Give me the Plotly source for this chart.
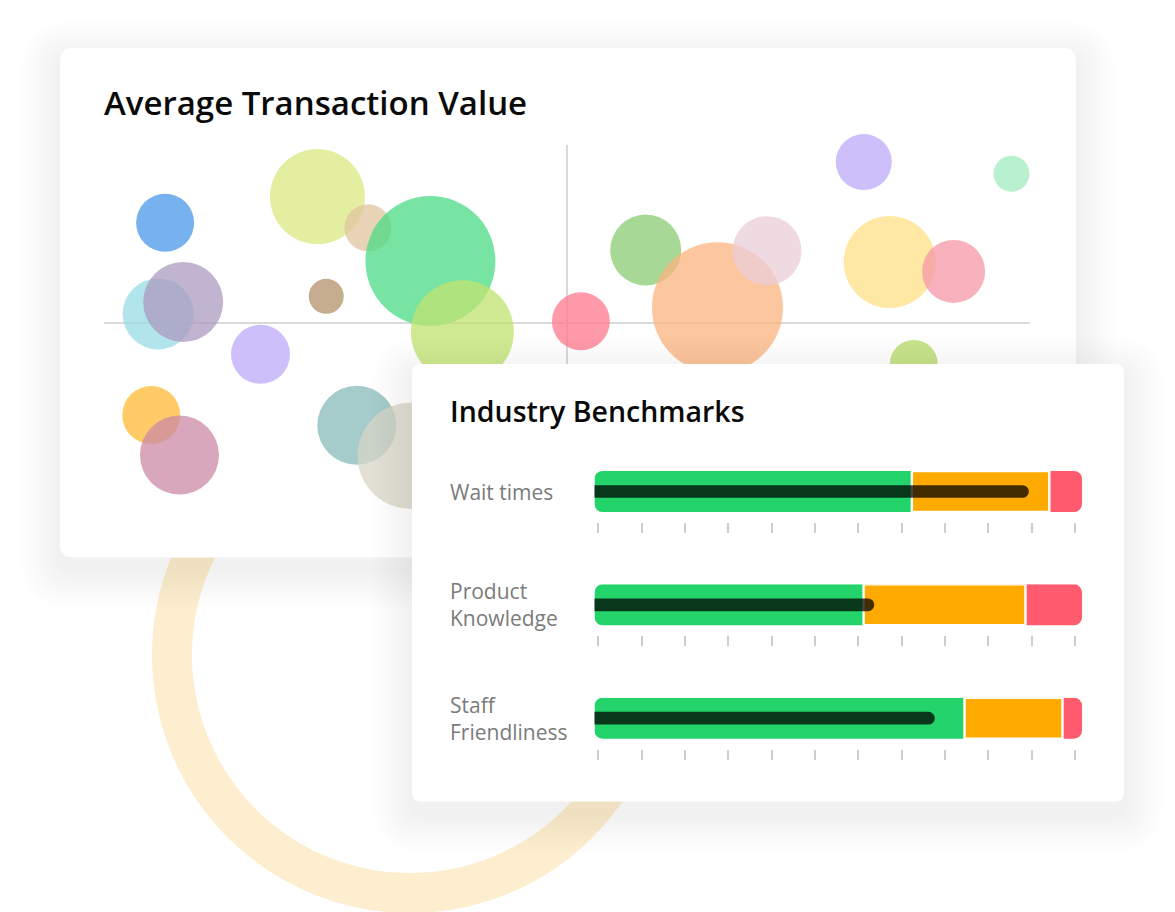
import plotly.graph_objects as go

W, H = 1175, 912

# ---------- Average Transaction Value (bubbles) ----------
bubble_x = [-86.8, -53.9, -43.0, -29.5, -22.6, -52.0, -88.3, -82.9, -66.2, -89.8, -83.7,
            -45.4, -33.8, 3.0, 17.0, 32.5, 43.2, 64.1, 96.0, 69.7, 83.5, 74.9]
bubble_y = [56.3, 71.0, 53.5, 34.8, -4.9, 15.0, 5.1, 11.8, -17.6, -51.7, -74.2,
            -57.5, -74.6, 1.0, 41.0, 8.6, 40.6, 90.4, 83.9, 34.3, 29.0, -23.0]
bubble_size = [58, 95, 47, 130, 103, 35, 71, 80, 59, 58, 79,
               79, 106, 58, 71, 131, 69, 56, 36, 92, 63, 48]
bubble_color = ['#77B2EE', '#E4EEA0', '#E8D3B7', '#78E4A3', '#D0EA94', '#C6AD8F',
                '#B2E4EB', '#C0B4D0', '#CDC0FA', '#FECB66', '#D8A7BC', '#A5CBCA',
                '#E2DFD4', '#FE9AAA', '#A8D896', '#FCC79E', '#F0DAE2', '#CDC0FA',
                '#B9F0D0', '#FFE8A4', '#F8B2BE', '#C8E48C']

# ---------- Industry Benchmarks (bullets) ----------
bench_labels = ['Wait times', 'Product<br>Knowledge', 'Staff<br>Friendliness']
good_end = [65.1, 55.2, 75.9]
fair_end = [93.3, 88.4, 96.0]
scale_max = [100, 100, 100]
measure = [89.1, 57.4, 69.8]

GREEN, ORANGE, RED = '#22D46A', '#FFAA00', '#FF5A6E'
RING = '#FDEECF'


def fx(px):
    return px / W


def fy(py):
    return 1 - py / H


def tint(hexcol, a=0.75):
    """ colour that gives hexcol on white when drawn with opacity a """
    rgb = [int(hexcol[i:i + 2], 16) for i in (1, 3, 5)]
    base = [max(0, min(255, round((c - (1 - a) * 255) / a))) for c in rgb]
    return 'rgba({},{},{},{})'.format(*base, a)


def rrect(x0, y0, x1, y1, r, tx=lambda v: v, ty=lambda v: v):
    P = lambda x, y: '{:.5f},{:.5f}'.format(tx(x), ty(y))
    return ('M{} L{} Q{} {} L{} Q{} {} L{} Q{} {} L{} Q{} {} Z'.format(
        P(x0 + r, y0), P(x1 - r, y0), P(x1, y0), P(x1, y0 + r),
        P(x1, y1 - r), P(x1, y1), P(x1 - r, y1), P(x0 + r, y1),
        P(x0, y1), P(x0, y1 - r), P(x0, y0 + r), P(x0, y0), P(x0 + r, y0)))


def card(box, r, xref, yref, tx, ty, n=14, spread=40, dy=12, alpha=0.0045):
    x0, y0, x1, y1 = box
    out = []
    for i in range(n):
        e = spread * (n - i) / n
        out.append(dict(type='path', xref=xref, yref=yref, layer='below', line_width=0,
                        fillcolor='rgba(0,0,0,{})'.format(alpha),
                        path=rrect(x0 - e, y0 - e + dy, x1 + e, y1 + e + dy, r + e, tx, ty)))
    out.append(dict(type='path', xref=xref, yref=yref, layer='below', line_width=0,
                    fillcolor='white', path=rrect(x0, y0, x1, y1, r, tx, ty)))
    return out


fig = go.Figure()

fig.add_trace(go.Scatter(
    x=bubble_x, y=bubble_y, mode='markers', cliponaxis=False, hoverinfo='skip',
    marker=dict(size=bubble_size, color=[tint(c) for c in bubble_color],
                opacity=1, line_width=0),
    xaxis='x', yaxis='y'))

# empty trace that holds the front card layer
fig.add_trace(go.Scatter(x=[0], y=[0], mode='markers', marker_opacity=0,
                         hoverinfo='skip', xaxis='x2', yaxis='y2'))

ROW_TOP = [471, 584.3, 697.7]
BAR_X0, BAR_X1 = 594.5, 1082
OVER = 2    # hidden overlap under the orange band
LEAD = 4    # measure starts left of the axis, rounded start gets clipped away
layout_axes = {}
for i in range(3):
    xa, ya = 'x{}'.format(i + 3), 'y{}'.format(i + 3)
    common = dict(y=[30.5], orientation='h', xaxis=xa, yaxis=ya, hoverinfo='skip')
    # red band (floating bar -> both ends rounded, left end hidden under orange)
    fig.add_trace(go.Bar(x=[scale_max[i] - fair_end[i] + OVER], base=[fair_end[i] - OVER],
                         width=41, marker=dict(color=RED, cornerradius=8, line_width=0),
                         **common))
    # green band (floating, right end hidden under orange)
    fig.add_trace(go.Bar(x=[good_end[i] + OVER], base=[0], width=41,
                         marker=dict(color=GREEN, cornerradius=8, line_width=0), **common))
    # orange band, its white outline gives the separators
    fig.add_trace(go.Bar(x=[fair_end[i] - good_end[i]], base=[good_end[i]], width=41,
                         marker=dict(color=ORANGE, line=dict(color='white', width=2.4)),
                         **common))
    # measure bar
    fig.add_trace(go.Bar(x=[measure[i] + LEAD], base=[-LEAD], width=12.7,
                         marker=dict(color='rgba(0,0,0,0.74)', cornerradius=6.3, line_width=0),
                         **common))
    top = ROW_TOP[i]
    layout_axes['xaxis{}'.format(i + 3)] = dict(
        domain=[fx(BAR_X0), fx(BAR_X1)], range=[0, 100], anchor=ya,
        showgrid=False, zeroline=False, showline=False, showticklabels=False,
        ticks='outside', ticklen=10, tickwidth=2.2, tickcolor='#cdcdcd',
        tick0=0.78, dtick=8.89, fixedrange=True)
    layout_axes['yaxis{}'.format(i + 3)] = dict(
        domain=[fy(top + 51), fy(top)], range=[0, 51], anchor=xa, visible=False,
        fixedrange=True)

# decoration: ring + back card (paper layer), front card (x2/y2 layer)
shapes = [dict(type='circle', xref='paper', yref='paper', layer='below',
               x0=fx(410 - 238), x1=fx(410 + 238), y0=fy(655 + 238), y1=fy(655 - 238),
               line=dict(color=RING, width=40), fillcolor='rgba(0,0,0,0)')]
shapes += card((60, 48, 1076, 557.5), 13, 'paper', 'paper', fx, fy)
shapes += card((412, 364, 1124, 801.5), 9, 'x2', 'y2', lambda v: v, lambda v: v)

FONT = 'Open Sans'
annotations = [
    dict(text='Average Transaction Value', x=fx(102), y=fy(103), xref='paper', yref='paper',
         xanchor='left', yanchor='middle', showarrow=False,
         font=dict(family=FONT, size=33, color='#0a0a0a', weight=600)),
    dict(text='Industry Benchmarks', x=fx(448), y=fy(411), xref='paper', yref='paper',
         xanchor='left', yanchor='middle', showarrow=False,
         font=dict(family=FONT, size=28.5, color='#0a0a0a', weight=600)),
]
for i, lab in enumerate(bench_labels):
    annotations.append(dict(text=lab, x=fx(448), y=fy(ROW_TOP[i] + 20.5), xref='paper',
                            yref='paper', xanchor='left', yanchor='middle', align='left',
                            showarrow=False,
                            font=dict(family=FONT, size=21, color='#7b7b7b', weight=500)))

fig.update_layout(
    width=W, height=H, margin=dict(l=0, r=0, t=0, b=0),
    paper_bgcolor='white', plot_bgcolor='rgba(0,0,0,0)',
    showlegend=False, hovermode=False, barmode='overlay',
    xaxis=dict(domain=[fx(104), fx(1030)], range=[-100, 100], showgrid=False,
               showticklabels=False, zeroline=True, zerolinecolor='#dadada',
               zerolinewidth=2, fixedrange=True),
    yaxis=dict(domain=[fy(501), fy(145)], range=[-100, 100], showgrid=False,
               showticklabels=False, zeroline=True, zerolinecolor='#dadada',
               zerolinewidth=2, fixedrange=True),
    xaxis2=dict(domain=[0, 1], range=[0, W], anchor='y2', visible=False, fixedrange=True),
    yaxis2=dict(domain=[0, 1], range=[H, 0], anchor='x2', visible=False, fixedrange=True),
    shapes=shapes, annotations=annotations,
    **layout_axes)

fig.write_html("out.html", config={'displayModeBar': False},
               post_script="document.body.style.margin='0';document.body.style.overflow='hidden';")
